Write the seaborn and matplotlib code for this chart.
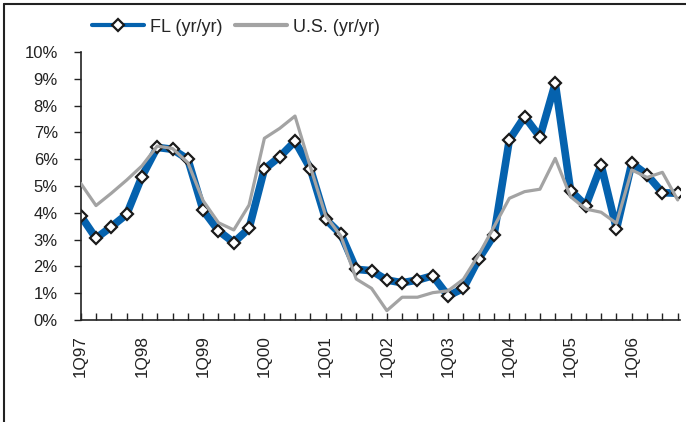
import matplotlib
matplotlib.use("Agg")
import matplotlib.pyplot as plt
import matplotlib.ticker as mticker
from matplotlib.lines import Line2D
import seaborn as sns
import pandas as pd

# quarterly growth, 1Q97 .. 4Q06 (percent)
quarters = [f"{q}Q{y:02d}" for y in [97, 98, 99, 0, 1, 2, 3, 4, 5, 6] for q in range(1, 5)]
fl_yoy = [3.89, 3.05, 3.48, 3.94, 5.35, 6.44, 6.37, 6.00,
          4.09, 3.33, 2.89, 3.42, 5.63, 6.09, 6.67, 5.65,
          3.76, 3.20, 1.89, 1.84, 1.49, 1.39, 1.49, 1.65,
          0.90, 1.18, 2.28, 3.17, 6.72, 7.59, 6.83, 8.83,
          4.83, 4.27, 5.77, 3.40, 5.85, 5.42, 4.75, 4.73]
us_yoy = [5.10, 4.27, 4.73, 5.22, 5.75, 6.49, 6.40, 5.87,
          4.45, 3.63, 3.36, 4.29, 6.78, 7.15, 7.61, 5.72,
          3.89, 3.13, 1.53, 1.18, 0.35, 0.85, 0.85, 1.02,
          1.09, 1.52, 2.43, 3.48, 4.54, 4.79, 4.88, 6.03,
          4.60, 4.14, 4.02, 3.61, 5.60, 5.32, 5.51, 4.48]

df = pd.DataFrame({"idx": range(len(quarters)), "quarter": quarters,
                   "FL": [v / 100 for v in fl_yoy], "US": [v / 100 for v in us_yoy]})

sns.set_style("white")
plt.rcParams["font.family"] = ["Liberation Sans", "DejaVu Sans"]

blue = "#0562AE"
grey = "#A3A3A3"
ink = "#222222"

fig = plt.figure(figsize=(6.86, 4.22), dpi=100)
ax = fig.add_axes([80.7 / 686, 1 - 320 / 422, (680 - 80.7) / 686, (320 - 52) / 422])

sns.lineplot(data=df, x="idx", y="FL", ax=ax, color=blue, linewidth=5.5,
             marker="D", markersize=6.5, markerfacecolor="white",
             markeredgecolor="#1a1a1a", markeredgewidth=1.6, zorder=2)
sns.lineplot(data=df, x="idx", y="US", ax=ax, color=grey, linewidth=2.3, zorder=3)

ax.set_xlim(0, 39.15)
ax.set_ylim(0, 0.10)
ax.yaxis.set_major_locator(mticker.MultipleLocator(0.01))
ax.yaxis.set_major_formatter(mticker.PercentFormatter(1.0, decimals=0))
ax.set_xticks(range(0, 40, 4))
ax.set_xticklabels(quarters[::4], rotation=90)
ax.set_xticks(range(40), minor=True)
ax.set_xlabel("")
ax.set_ylabel("")

for s in ["top", "right"]:
    ax.spines[s].set_visible(False)
for s in ["left", "bottom"]:
    ax.spines[s].set_color(ink)
    ax.spines[s].set_linewidth(1.2)

ax.tick_params(axis="y", direction="out", length=5, width=1, color=ink,
               left=True, labelsize=12, pad=11.5, labelcolor=ink)
ax.tick_params(axis="x", which="both", direction="in", length=5, width=1,
               color=ink, bottom=True, labelsize=12.3, labelcolor=ink, pad=11)

handles = [Line2D([], [], color=blue, linewidth=3, marker="D", markersize=6.5,
                  markerfacecolor="white", markeredgecolor="#1a1a1a", markeredgewidth=1.6),
           Line2D([], [], color=grey, linewidth=3)]
fig.legend(handles, ["FL (yr/yr)", "U.S. (yr/yr)"], loc="center",
           bbox_to_anchor=(236 / 686, 1 - 27 / 422), ncol=2, frameon=False,
           fontsize=13, handlelength=2.9, columnspacing=0.65, handletextpad=0.33)

# outer frame of the original exhibit
fig.add_artist(Line2D([4 / 686, 4 / 686], [0, 1 - 4 / 422], color=ink, linewidth=1.5))
fig.add_artist(Line2D([4 / 686, 1], [1 - 4 / 422, 1 - 4 / 422], color=ink, linewidth=1.5))

fig.savefig("out.png", dpi=100)
